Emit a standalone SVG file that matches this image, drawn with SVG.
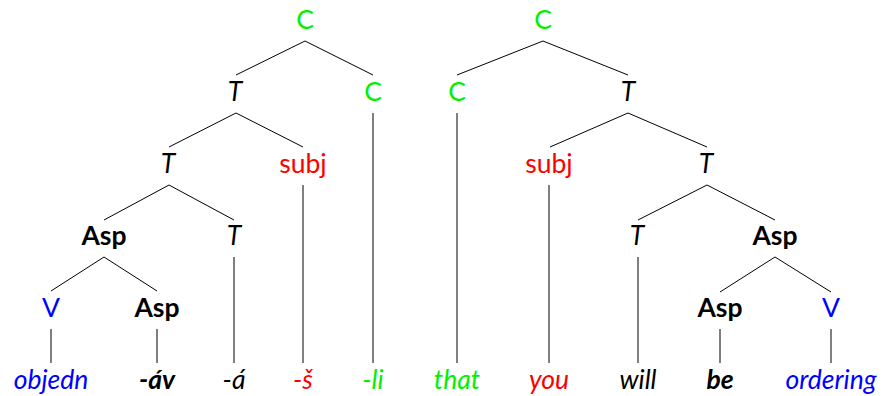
<svg xmlns="http://www.w3.org/2000/svg" width="883" height="396" viewBox="0 0 883 396">
<style>
text{font-family:Lato,"Open Sans","Liberation Sans",sans-serif;font-size:26.5px;text-anchor:middle}
.g{fill:#00f000}.r{fill:#ff0000}.b{fill:#0000ff}.k{fill:#000}
.i{font-style:italic}.bd{font-weight:bold}
.e{stroke:#000;stroke-width:1;fill:none}
</style>
<rect width="883" height="396" fill="#fff"/>
<g id="connectors">
<path class="e" d="M305,41L236,75M305,41L373,75M373,113V363M236,113L169,147M236,113L303,147M303,185V363M169,185L104,220M169,185L234,220M234,257V363M104,257L51,291M104,257L157,291M51,329V363M157,329V363"/>
<path class="e" d="M543,41L457,75M543,41L628,75M457,113V363M628,113L550,147M628,113L707,147M549,185V363M707,185L638,220M707,185L775,220M638,257V363M775,257L720,292M775,257L831,292M720,329V363M831,329V363"/>
</g>
<g id="L-C1"><text x="305" y="29" class="g">C</text></g>
<g id="L-T1"><text x="235" y="101" class="k i">T</text></g>
<g id="L-C2"><text x="373" y="101" class="g">C</text></g>
<g id="L-T2"><text x="168" y="173" class="k i">T</text></g>
<g id="L-subj"><text x="303" y="173" class="r">subj</text></g>
<g id="L-Asp1"><text x="104" y="245" class="k bd">Asp</text></g>
<g id="L-T3"><text x="234" y="245" class="k i">T</text></g>
<g id="L-V"><text x="51" y="317" class="b">V</text></g>
<g id="L-Asp2"><text x="157" y="317" class="k bd">Asp</text></g>
<g id="L-objedn"><text x="51" y="389" class="b i">objedn</text></g>
<g id="L-av"><text x="157" y="389" class="k i bd">-áv</text></g>
<g id="L-a"><text x="234" y="389" class="k i">-á</text></g>
<g id="L-s"><text x="303" y="389" class="r i">-š</text></g>
<g id="L-li"><text x="373" y="389" class="g i">-li</text></g>
<g id="R-C1"><text x="543" y="29" class="g">C</text></g>
<g id="R-C2"><text x="457" y="101" class="g">C</text></g>
<g id="R-T1"><text x="628" y="101" class="k i">T</text></g>
<g id="R-subj"><text x="549" y="173" class="r">subj</text></g>
<g id="R-T2"><text x="706" y="173" class="k i">T</text></g>
<g id="R-T3"><text x="637" y="245" class="k i">T</text></g>
<g id="R-Asp1"><text x="775" y="245" class="k bd">Asp</text></g>
<g id="R-Asp2"><text x="720" y="317" class="k bd">Asp</text></g>
<g id="R-V"><text x="831" y="317" class="b">V</text></g>
<g id="R-that"><text x="457" y="389" class="g i">that</text></g>
<g id="R-you"><text x="549" y="389" class="r i">you</text></g>
<g id="R-will"><text x="638" y="389" class="k i">will</text></g>
<g id="R-be"><text x="720" y="389" class="k i bd">be</text></g>
<g id="R-ordering"><text x="831" y="389" class="b i">ordering</text></g>
</svg>
